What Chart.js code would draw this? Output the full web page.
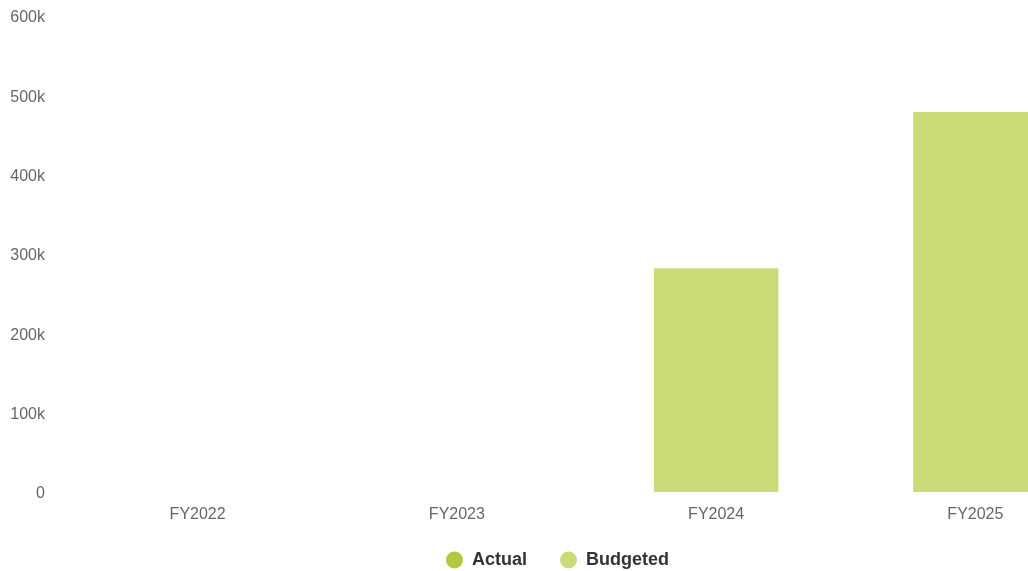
<!DOCTYPE html>
<html>
<head>
<meta charset="utf-8">
<script src="https://cdn.jsdelivr.net/npm/chart.js@4.4.0/dist/chart.umd.min.js"></script>
<style>
    html, body { margin: 0; padding: 0; background: #fff; overflow: hidden; }
    #wrap { width: 1118px; height: 571px; position: relative; }
</style>
</head>
<body>
<div id="wrap"><canvas id="chart"></canvas></div>
<script>
// Données du graphique
const years = ['FY2022', 'FY2023', 'FY2024', 'FY2025'];
const actual = [null, null, null, null];
const budgeted = [null, null, 282000, 479000];
const yTicks = [0, 100000, 200000, 300000, 400000, 500000, 600000];

const fontFamily = '"Liberation Sans", Arial, Helvetica, sans-serif';

// Hauteur fixe de la légende, puis léger décalage vers le haut
const legendPlacement = {
    id: 'legendPlacement',
    beforeLayout(chart) {
        const legend = chart.legend;
        if (legend && !legend._patched) {
            const fit = legend.fit;
            legend.fit = function() {
                fit.call(this);
                this.height = 45;
            };
            legend._patched = true;
        }
    },
    afterLayout(chart) {
        const legend = chart.legend;
        if (legend) {
            legend.top -= 8;
            legend.height = legend.bottom - legend.top;
        }
    }
};

const ctx = document.getElementById('chart').getContext('2d');
const chart = new Chart(ctx, {
    type: 'bar',
    data: {
        labels: years,
        datasets: [
            {
                label: 'Actual',
                data: actual,
                backgroundColor: '#b3c83c'
            },
            {
                label: 'Budgeted',
                data: budgeted,
                backgroundColor: '#cadb78'
            }
        ]
    },
    options: {
        responsive: true,
        maintainAspectRatio: false,
        animation: false,
        skipNull: true,
        categoryPercentage: 0.8,
        barPercentage: 0.6,
        layout: {
            padding: { top: 16, left: 10, right: 13, bottom: 0 }
        },
        plugins: {
            tooltip: { enabled: false },
            legend: {
                position: 'bottom',
                labels: {
                    usePointStyle: true,
                    pointStyle: 'circle',
                    boxWidth: 17,
                    boxHeight: 12,
                    pointStyleWidth: 17,
                    padding: 33,
                    color: '#333',
                    font: { family: fontFamily, size: 18, weight: 'bold' }
                }
            }
        },
        scales: {
            x: {
                grid: { display: false, drawTicks: false },
                border: { display: false },
                afterFit: function(scale) { scale.height = 34; },
                ticks: {
                    padding: 13,
                    color: '#666',
                    font: { family: fontFamily, size: 16 }
                }
            },
            y: {
                min: 0,
                max: 600000,
                grid: { display: false, drawTicks: false },
                border: { display: false },
                afterFit: function(scale) {
                    scale.width = 58;
                    scale.paddingTop = 0;
                    scale.paddingBottom = 0;
                },
                afterBuildTicks: function(scale) {
                    scale.ticks = yTicks.map(v => ({ value: v }));
                },
                ticks: {
                    padding: 23,
                    labelOffset: 2,
                    color: '#666',
                    font: { family: fontFamily, size: 16 },
                    callback: function(value) {
                        return value === 0 ? '0' : (value / 1000) + 'k';
                    }
                }
            }
        }
    },
    plugins: [legendPlacement]
});
</script>
</body>
</html>
